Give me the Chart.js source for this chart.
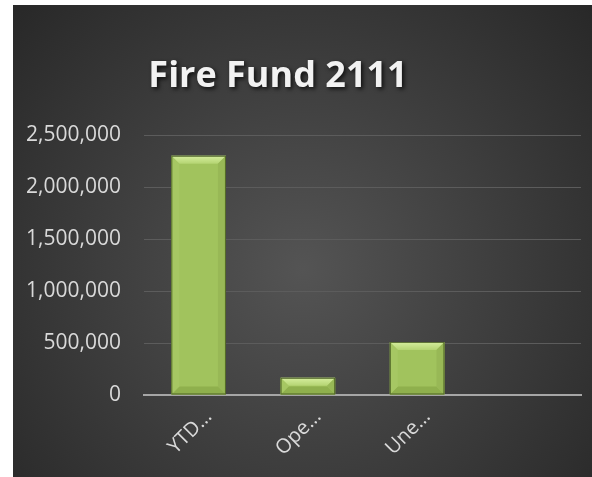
<!DOCTYPE html>
<html>
<head>
<meta charset="utf-8">
<script src="https://cdn.jsdelivr.net/npm/chart.js@4/dist/chart.umd.min.js"></script>
<style>
  html, body { margin: 0; padding: 0; background: #ffffff; }
  #wrap { position: absolute; left: 13px; top: 5px; width: 579px; height: 472px; }
</style>
</head>
<body>
<div id="wrap"><canvas id="c" width="579" height="472"></canvas></div>
<script>
const chartTitle = "Fire Fund 2111";
const categories = ["YTD…", "Ope…", "Une…", ""];
const values = [2300000, 165000, 510000, null];
const yTicks = [0, 500000, 1000000, 1500000, 2000000, 2500000];

const bgPlugin = {
  id: 'bg',
  beforeDraw(chart) {
    const ctx = chart.ctx, w = chart.width, h = chart.height;
    ctx.save();
    const g = ctx.createRadialGradient(w * 0.5, h * 0.56, 0, w * 0.5, h * 0.56, Math.max(w, h) * 0.72);
    g.addColorStop(0, '#545454');
    g.addColorStop(1, '#252525');
    ctx.fillStyle = g;
    ctx.fillRect(0, 0, w, h);
    ctx.restore();
  }
};

const titlePlugin = {
  id: 'shadowTitle',
  afterDraw(chart) {
    const ctx = chart.ctx;
    ctx.save();
    ctx.font = 'bold 36px "Open Sans"';
    ctx.textAlign = 'center';
    ctx.textBaseline = 'alphabetic';
    ctx.shadowColor = 'rgba(0,0,0,0.75)';
    ctx.shadowBlur = 4;
    ctx.shadowOffsetX = 2;
    ctx.shadowOffsetY = 2;
    ctx.fillStyle = '#f2f2f2';
    ctx.fillText(chartTitle, 265, 82);
    ctx.restore();
  }
};

const bevelPlugin = {
  id: 'bevel',
  afterDatasetsDraw(chart) {
    const ctx = chart.ctx;
    const meta = chart.getDatasetMeta(0);
    meta.data.forEach((bar, i) => {
      if (values[i] == null) return;
      const p = bar.getProps(['x', 'y', 'base', 'width'], true);
      const l = p.x - p.width / 2, r = p.x + p.width / 2, t = Math.min(p.y, p.base), b = Math.max(p.y, p.base);
      const bv = Math.min(8, (b - t) / 2);
      ctx.save();
      let g = ctx.createLinearGradient(0, t, 0, t + bv);
      g.addColorStop(0, '#d6ee9e');
      g.addColorStop(1, '#b4d472');
      ctx.fillStyle = g;
      ctx.beginPath();
      ctx.moveTo(l, t); ctx.lineTo(r, t); ctx.lineTo(r - bv, t + bv); ctx.lineTo(l + bv, t + bv); ctx.closePath(); ctx.fill();
      ctx.fillStyle = '#8fb04d';
      ctx.beginPath();
      ctx.moveTo(l, b); ctx.lineTo(r, b); ctx.lineTo(r - bv, b - bv); ctx.lineTo(l + bv, b - bv); ctx.closePath(); ctx.fill();
      ctx.fillStyle = '#a6c763';
      ctx.beginPath();
      ctx.moveTo(l, t); ctx.lineTo(l + bv, t + bv); ctx.lineTo(l + bv, b - bv); ctx.lineTo(l, b); ctx.closePath(); ctx.fill();
      ctx.fillStyle = '#98b856';
      ctx.beginPath();
      ctx.moveTo(r, t); ctx.lineTo(r - bv, t + bv); ctx.lineTo(r - bv, b - bv); ctx.lineTo(r, b); ctx.closePath(); ctx.fill();
      ctx.strokeStyle = 'rgba(60,80,25,0.8)';
      ctx.lineWidth = 1;
      ctx.strokeRect(l + 0.5, t + 0.5, r - l - 1, b - t - 1);
      ctx.restore();
    });
  }
};

new Chart(document.getElementById('c'), {
  type: 'bar',
  data: {
    labels: categories,
    datasets: [{
      data: values,
      backgroundColor: '#a1c35d',
      borderWidth: 0,
      barPercentage: 0.5,
      categoryPercentage: 1.0
    }]
  },
  options: {
    responsive: false,
    animation: false,
    devicePixelRatio: 1,
    layout: { padding: { top: 130, left: 14, right: 11, bottom: 0 } },
    plugins: { legend: { display: false }, title: { display: false }, tooltip: { enabled: false } },
    scales: {
      x: {
        grid: { display: false, drawTicks: false },
        border: { display: true, color: '#a6a6a6', width: 2 },
        ticks: {
          color: '#d9d9d9',
          font: { family: 'Open Sans', size: 20 },
          maxRotation: 45, minRotation: 45,
          padding: 10,
          labelOffset: 10,
          autoSkip: false
        },
        afterFit(s) { s.height = 82; }
      },
      y: {
        min: 0, max: 2500000,
        afterBuildTicks(s) { s.ticks = yTicks.map(v => ({ value: v })); },
        grid: { color: '#5c5c5c', lineWidth: 1, drawTicks: false },
        border: { display: false },
        ticks: {
          color: '#d9d9d9',
          font: { family: 'Open Sans', size: 21 },
          padding: 23,
          callback: v => v.toLocaleString('en-US')
        },
        afterFit(s) { s.width = 117; }
      }
    }
  },
  plugins: [bgPlugin, bevelPlugin, titlePlugin]
});
</script>
</body>
</html>
